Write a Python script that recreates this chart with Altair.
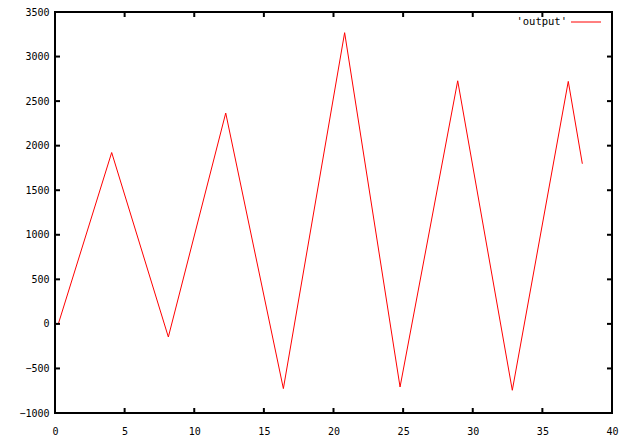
import altair as alt
import pandas as pd

# Series (turning points of the trace)
x_vals = [0, 0.24, 4.07, 8.14, 12.26, 16.4, 20.8, 24.78, 28.92, 32.84, 36.86, 37.87]
y_vals = [0, 0, 1923, -147, 2366, -726, 3268, -708, 2728, -745, 2721, 1797]

x_ticks = [0, 5, 10, 15, 20, 25, 30, 35, 40]
y_ticks = [-1000, -500, 0, 500, 1000, 1500, 2000, 2500, 3000, 3500]
series_name = "'output'"

W, H = 557, 401
FONT = "DejaVu Sans Mono"

df = pd.DataFrame({"x": x_vals, "y": y_vals})
xt = pd.DataFrame({"t": x_ticks})
yt = pd.DataFrame({"t": y_ticks})

xscale = alt.Scale(domain=[0, 40], nice=False, zero=False)
yscale = alt.Scale(domain=[-1000, 3500], nice=False, zero=False)

xaxis = alt.Axis(values=x_ticks, ticks=False, domain=False, grid=False, format="d",
                 labelFont=FONT, labelFontSize=10, labelColor="black",
                 labelPadding=13, labelFlush=False, title=None)
yaxis = alt.Axis(values=y_ticks, ticks=False, domain=False, grid=False, format="d",
                 labelFont=FONT, labelFontSize=10, labelColor="black",
                 labelPadding=6, labelFlush=False, title=None)

line = alt.Chart(df).mark_line(color="#ff0000", strokeWidth=1).encode(
    x=alt.X("x:Q", scale=xscale, axis=xaxis, title=None),
    y=alt.Y("y:Q", scale=yscale, axis=yaxis, title=None),
)

tick_style = dict(color="black", strokeWidth=2)
bottom_ticks = alt.Chart(xt).mark_rule(**tick_style).encode(
    x=alt.X("t:Q", scale=xscale, axis=xaxis, title=None),
    y=alt.value(H), y2=alt.value(H - 5))
top_ticks = alt.Chart(xt).mark_rule(**tick_style).encode(
    x=alt.X("t:Q", scale=xscale, axis=xaxis, title=None),
    y=alt.value(0), y2=alt.value(5))
left_ticks = alt.Chart(yt).mark_rule(**tick_style).encode(
    y=alt.Y("t:Q", scale=yscale, axis=yaxis, title=None),
    x=alt.value(0), x2=alt.value(5))
right_ticks = alt.Chart(yt).mark_rule(**tick_style).encode(
    y=alt.Y("t:Q", scale=yscale, axis=yaxis, title=None),
    x=alt.value(W), x2=alt.value(W - 5))

legend_text = alt.Chart(pd.DataFrame({"s": [series_name]})).mark_text(
    align="right", baseline="middle", font=FONT, fontSize=10.5, color="black"
).encode(text="s:N", x=alt.value(512), y=alt.value(10))
legend_line = alt.Chart(pd.DataFrame({"s": [series_name]})).mark_rule(
    color="#ff0000", strokeWidth=1
).encode(x=alt.value(516), x2=alt.value(546), y=alt.value(10))

chart = alt.layer(
    line, bottom_ticks, top_ticks, left_ticks, right_ticks, legend_text, legend_line
).properties(
    width=W, height=H,
    autosize=alt.AutoSizeParams(type="none"),
    padding={"left": 47, "top": 4, "right": 8, "bottom": 26},
    background="white",
).configure_view(stroke="black", strokeWidth=2)

chart.save("out.html", embed_options={"renderer": "svg", "actions": False})
